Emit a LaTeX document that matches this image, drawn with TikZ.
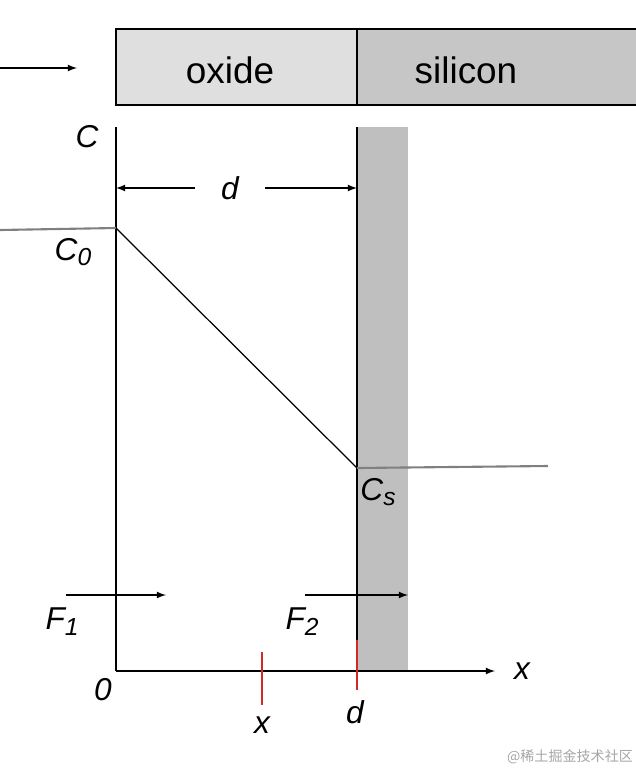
\documentclass[tikz,border=0pt]{standalone}
\usepackage{fontspec}
\setmainfont{Liberation Sans}
\newfontfamily\cjk{Noto Sans CJK SC}
\begin{document}
\begin{tikzpicture}[x=0.02cm,y=-0.02cm,
  lab/.style={font=\fontsize{18}{21}\selectfont\itshape},
  big/.style={font=\fontsize{21}{25}\selectfont},
  arr/.style={-latex,line width=0.8pt},
  red/.style={draw={rgb,255:red,210;green,40;blue,40},line width=0.8pt}]
\useasboundingbox (0,0) rectangle (636,772);
\fill[gray!25] (116,29) rectangle (357,105);
\fill[gray!45] (357,29) rectangle (636,105);
\draw[line width=0.6pt] (636,29) -- (116,29) -- (116,105) -- (636,105);
\draw[line width=0.6pt] (357,29) -- (357,105);
\node[big] (ox) at (230,70) {oxide};
\node[big] (si) at (466,70) {silicon};
\coordinate (a0) at (0,68); \coordinate (a1) at (77,68);
\draw[arr] (a0) -- (a1);
\fill[gray!50] (357,127) rectangle (408,671);
\draw[line width=0.6pt] (357,127) -- (357,671);
\coordinate (o) at (116,671); \coordinate (yt) at (116,127); \coordinate (xe) at (495,671);
\draw[line width=0.6pt] (yt) -- (o);
\draw[arr] (o) -- (xe);
\node[lab] (xl) at (522,671) {x};
\node[lab] (cl) at (87,137) {C};
\node[lab] (dl) at (230,188) {d};
\coordinate (dl0) at (116,188); \coordinate (dr0) at (357,188);
\draw[arr] (dl.west) ++(-20,0) -- (dl0);
\draw[arr] (dl.east) ++(20,0) -- (dr0);
\coordinate (p0) at (0,230); \coordinate (p1) at (116,228); \coordinate (p2) at (357,468); \coordinate (p3) at (548,466);
\draw[gray,line width=1.2pt] (p0) -- (p1);
\draw[line width=0.7pt] (p1) -- (p2);
\draw[gray,line width=1.2pt] (p2) -- (p3);
\node[lab] (c0) at (73,252) {C\raisebox{-0.35ex}{\fontsize{14}{16}\selectfont\itshape 0}};
\node[lab] (cs) at (378,492) {C\raisebox{-0.35ex}{\fontsize{14}{16}\selectfont\itshape s}};
\coordinate (f1a) at (66,595); \coordinate (f1b) at (166,595);
\coordinate (f2a) at (305,595); \coordinate (f2b) at (408,595);
\draw[arr] (f1a) -- (f1b);
\draw[arr] (f2a) -- (f2b);
\node[lab] (F1) at (62,622) {F\raisebox{-0.35ex}{\fontsize{14}{16}\selectfont\itshape 1}};
\node[lab] (F2) at (302,622) {F\raisebox{-0.35ex}{\fontsize{14}{16}\selectfont\itshape 2}};
\draw[red] (262,652) -- (262,705);
\draw[red] (357,640) -- (357,690);
\node[lab] (zero) at (103,690) {0};
\node[lab] (dd) at (355,712) {d};
\node[lab] (xx) at (262,725) {x};
\node[font=\cjk\fontsize{8}{10}\selectfont,text=gray!70] (wm) at (570,757) {@稀土掘金技术社区};
\end{tikzpicture}
\end{document}
